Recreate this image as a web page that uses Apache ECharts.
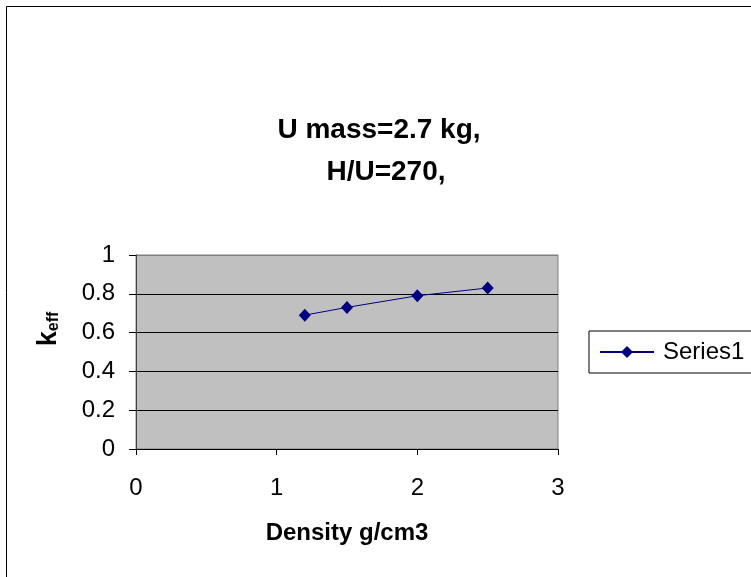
<!DOCTYPE html>
<html>
<head>
<meta charset="utf-8">
<script src="https://cdn.jsdelivr.net/npm/echarts@6/dist/echarts.min.js"></script>
<style>
  html, body { margin: 0; padding: 0; background: #fff; }
  #chart { width: 751px; height: 577px; }
</style>
</head>
<body>
<div id="chart"></div>
<script>
// chart data
const titleLines = ['U mass=2.7 kg,', 'H/U=270,'];
const density = [1.2, 1.5, 2.0, 2.5];
const keff = [0.69, 0.73, 0.79, 0.83];
const seriesName = 'Series1';

const font = "'Liberation Sans', Arial, sans-serif";

const chart = echarts.init(document.getElementById('chart'), null, { renderer: 'canvas' });

const option = {
  animation: false,
  backgroundColor: '#fff',
  textStyle: { fontFamily: font, color: '#000' },
  title: [
    {
      text: titleLines[0],
      left: 379, top: 116, textAlign: 'center', padding: 0,
      textStyle: { fontSize: 28, fontWeight: 'bold', color: '#000', fontFamily: font }
    },
    {
      text: titleLines[1],
      left: 386, top: 158, textAlign: 'center', padding: 0,
      textStyle: { fontSize: 28, fontWeight: 'bold', color: '#000', fontFamily: font }
    }
  ],
  // outer chart frame (runs off the right and bottom edges)
  graphic: [
    {
      type: 'rect',
      shape: { x: 6.5, y: 6.5, width: 800, height: 700 },
      style: { fill: 'none', stroke: '#000', lineWidth: 1 },
      silent: true, z: -1
    }
  ],
  legend: {
    data: [seriesName],
    left: 589, top: 331,
    orient: 'vertical',
    padding: [9, 40, 9, 10],
    borderColor: '#000', borderWidth: 1,
    itemWidth: 54, itemHeight: 15,
    textStyle: { fontSize: 24, color: '#000', fontFamily: font, padding: [0, 0, 0, 4] }
  },
  grid: {
    left: 136, top: 255, width: 422, height: 194,
    show: true,
    backgroundColor: '#c0c0c0',
    borderColor: '#808080', borderWidth: 1
  },
  xAxis: {
    type: 'value',
    min: 0, max: 3, interval: 1,
    name: 'Density g/cm3',
    nameLocation: 'middle', nameGap: 72,
    nameTextStyle: { fontSize: 24, fontWeight: 'bold', color: '#000', fontFamily: font },
    axisLine: { show: true, lineStyle: { color: '#000', width: 1 } },
    axisTick: { show: true, length: 6, lineStyle: { color: '#000' } },
    axisLabel: { fontSize: 24, margin: 27, color: '#000', fontFamily: font },
    splitLine: { show: false }
  },
  yAxis: {
    type: 'value',
    min: 0, max: 1, interval: 0.2,
    name: '{k|k}{e|eff}',
    nameLocation: 'middle', nameGap: 74, nameRotate: 90,
    nameTextStyle: {
      padding: [0, 0, 0, 46],
      rich: {
        k: { fontSize: 27, fontWeight: 'bold', color: '#000', fontFamily: font },
        e: { fontSize: 16, fontWeight: 'bold', color: '#000', fontFamily: font, verticalAlign: 'bottom' }
      }
    },
    axisLine: { show: true, lineStyle: { color: '#404040', width: 1 } },
    axisTick: { show: true, length: 7, lineStyle: { color: '#000' } },
    axisLabel: { fontSize: 24, margin: 21, color: '#000', fontFamily: font },
    splitLine: {
      show: true,
      lineStyle: { color: ['#000', '#000', '#000', '#000', '#000', '#808080'], width: 1 }
    }
  },
  series: [
    {
      name: seriesName,
      type: 'line',
      data: density.map((d, i) => [d, keff[i]]),
      symbol: 'diamond',
      symbolSize: [12, 13],
      lineStyle: { color: '#000080', width: 1 },
      itemStyle: { color: '#000080' }
    }
  ]
};

chart.setOption(option);
</script>
</body>
</html>
